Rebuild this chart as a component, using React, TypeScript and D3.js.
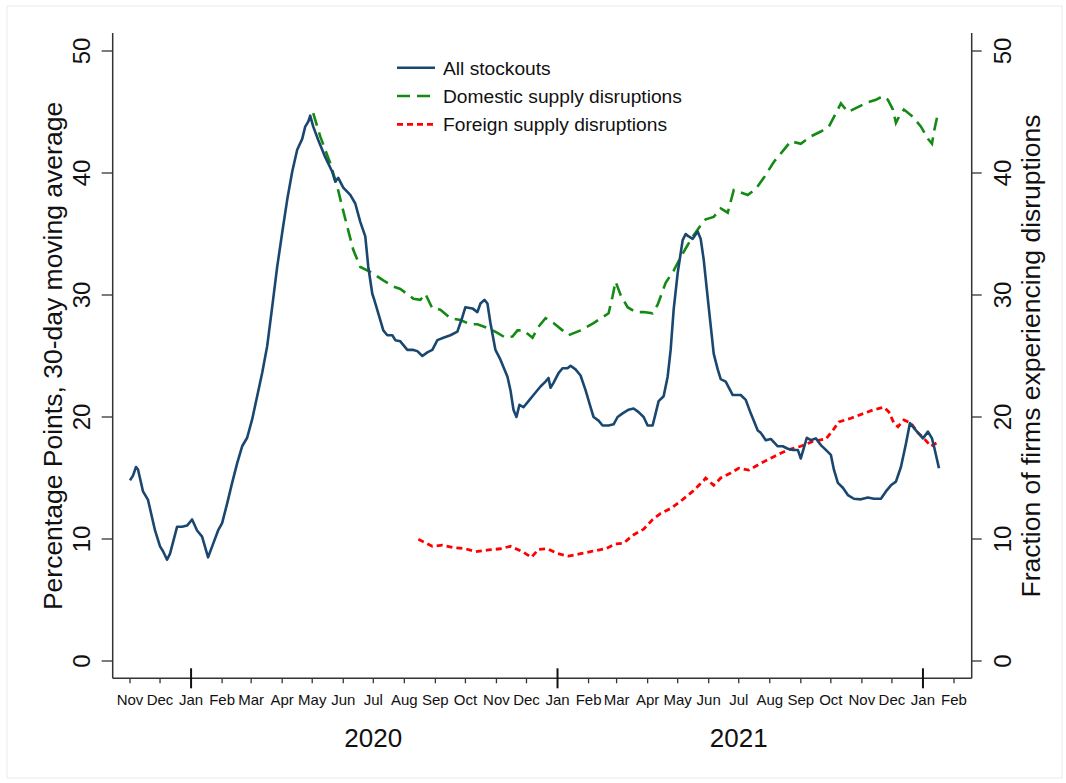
import React from "react";
import * as d3 from "d3";

// ---- Data ----
const stockoutDates = [
  "2019-11-01","2019-11-04","2019-11-07","2019-11-09","2019-11-14","2019-11-19","2019-11-26","2019-12-01","2019-12-04","2019-12-08",
  "2019-12-11","2019-12-18","2019-12-23","2019-12-28","2020-01-02","2020-01-07","2020-01-12","2020-01-18","2020-01-23","2020-01-28",
  "2020-02-01","2020-02-06","2020-02-11","2020-02-16","2020-02-21","2020-02-26","2020-03-02","2020-03-07","2020-03-12","2020-03-17",
  "2020-03-22","2020-03-27","2020-04-01","2020-04-06","2020-04-11","2020-04-16","2020-04-21","2020-04-24","2020-04-27","2020-04-29",
  "2020-05-02","2020-05-07","2020-05-14","2020-05-21","2020-05-24","2020-05-27","2020-06-01","2020-06-08","2020-06-13","2020-06-18",
  "2020-06-23","2020-06-26","2020-06-30","2020-07-02","2020-07-06","2020-07-11","2020-07-15","2020-07-20","2020-07-23","2020-07-28",
  "2020-08-04","2020-08-10","2020-08-14","2020-08-19","2020-08-24","2020-08-29","2020-09-03","2020-09-09","2020-09-16","2020-09-23",
  "2020-09-28","2020-10-01","2020-10-08","2020-10-13","2020-10-16","2020-10-20","2020-10-23","2020-10-26","2020-10-31","2020-11-05",
  "2020-11-12","2020-11-15","2020-11-18","2020-11-21","2020-11-24","2020-11-28","2020-12-03","2020-12-08","2020-12-15","2020-12-20",
  "2020-12-23","2020-12-25","2020-12-28","2021-01-02","2021-01-06","2021-01-11","2021-01-14","2021-01-19","2021-01-24","2021-01-29",
  "2021-02-03","2021-02-06","2021-02-11","2021-02-15","2021-02-21","2021-02-26","2021-03-02","2021-03-07","2021-03-13","2021-03-18",
  "2021-03-23","2021-03-28","2021-04-01","2021-04-06","2021-04-09","2021-04-12","2021-04-17","2021-04-21","2021-04-24","2021-04-27",
  "2021-05-01","2021-05-06","2021-05-09","2021-05-12","2021-05-16","2021-05-21","2021-05-24","2021-05-27","2021-06-01","2021-06-06",
  "2021-06-10","2021-06-13","2021-06-18","2021-06-25","2021-07-03","2021-07-08","2021-07-13","2021-07-20","2021-07-23","2021-07-28",
  "2021-08-02","2021-08-09","2021-08-14","2021-08-19","2021-08-24","2021-08-29","2021-09-01","2021-09-07","2021-09-11","2021-09-16",
  "2021-09-21","2021-09-26","2021-10-01","2021-10-04","2021-10-08","2021-10-13","2021-10-18","2021-10-24","2021-10-31","2021-11-07",
  "2021-11-13","2021-11-20","2021-11-25","2021-11-30","2021-12-05","2021-12-10","2021-12-15","2021-12-19","2021-12-25","2022-01-01",
  "2022-01-06","2022-01-10","2022-01-12","2022-01-17",
];
const stockoutValues = [
  14.8,15.2,15.9,15.7,13.9,13.2,10.7,9.4,9.0,8.3,
  8.8,11.0,11.0,11.1,11.6,10.7,10.2,8.5,9.6,10.7,
  11.3,12.9,14.6,16.2,17.6,18.3,19.8,21.7,23.6,25.8,
  29.0,32.3,35.1,37.8,40.1,41.9,42.8,43.8,44.2,44.7,
  43.8,42.7,41.3,40.1,39.3,39.6,38.8,38.2,37.5,36.0,
  34.8,32.3,30.1,29.6,28.5,27.1,26.7,26.7,26.3,26.2,
  25.5,25.5,25.4,25.0,25.3,25.5,26.3,26.5,26.7,27.0,
  28.2,29.0,28.9,28.6,29.3,29.6,29.3,27.7,25.5,24.7,
  23.3,22.2,20.6,20.0,21.0,20.8,21.3,21.8,22.5,22.9,
  23.2,22.4,22.8,23.6,24.0,24.0,24.2,23.9,23.4,22.2,
  20.8,20.0,19.7,19.3,19.3,19.4,20.0,20.3,20.6,20.7,
  20.4,20.0,19.3,19.3,20.3,21.3,21.7,23.3,25.5,28.8,
  31.8,34.5,35.0,34.8,34.6,35.2,34.6,32.9,29.0,25.2,
  23.9,23.1,22.9,21.8,21.8,21.4,20.3,18.9,18.7,18.1,
  18.2,17.6,17.6,17.4,17.3,17.3,16.6,18.3,18.1,18.25,
  17.7,17.3,16.9,15.7,14.6,14.2,13.6,13.3,13.25,13.4,
  13.3,13.3,13.9,14.4,14.7,15.9,17.8,19.5,18.9,18.25,
  18.8,18.25,17.6,15.8,
];

const domesticDates = [
  "2020-05-02","2020-05-09","2020-05-19","2020-05-26","2020-05-31","2020-06-05","2020-06-11","2020-06-18","2020-06-28","2020-07-11",
  "2020-07-21","2020-07-28","2020-08-10","2020-08-17","2020-08-22","2020-08-29","2020-09-06","2020-09-16","2020-09-26","2020-10-06",
  "2020-10-13","2020-10-23","2020-11-02","2020-11-10","2020-11-17","2020-11-22","2020-11-28","2020-12-07","2020-12-13","2020-12-20",
  "2020-12-28","2021-01-06","2021-01-12","2021-01-24","2021-02-06","2021-02-21","2021-02-25","2021-02-28","2021-03-05","2021-03-12",
  "2021-03-20","2021-03-28","2021-04-06","2021-04-11","2021-04-19","2021-04-27","2021-05-04","2021-05-11","2021-05-17","2021-05-24",
  "2021-05-29","2021-06-06","2021-06-13","2021-06-20","2021-06-26","2021-07-10","2021-07-18","2021-07-26","2021-08-05","2021-08-15",
  "2021-08-22","2021-09-01","2021-09-11","2021-09-21","2021-09-29","2021-10-06","2021-10-11","2021-10-18","2021-10-28","2021-11-07",
  "2021-11-15","2021-11-22","2021-11-27","2021-12-02","2021-12-05","2021-12-08","2021-12-13","2021-12-22","2021-12-30","2022-01-06",
  "2022-01-10","2022-01-12","2022-01-16",
];
const domesticValues = [
  44.9,43.0,40.8,38.9,37.2,35.6,33.7,32.3,31.9,31.2,
  30.7,30.5,29.7,29.6,30.1,28.9,28.8,28.1,27.95,27.6,
  27.6,27.3,26.9,26.5,26.6,27.1,27.1,26.5,27.4,28.1,
  27.7,27.1,26.7,27.1,27.7,28.5,29.9,31.1,30.0,29.0,
  28.6,28.6,28.5,29.2,31.0,32.0,33.1,34.1,34.9,35.7,
  36.2,36.4,37.1,36.75,38.6,38.2,38.7,39.6,40.9,41.9,
  42.6,42.4,43.0,43.4,43.8,44.9,45.7,45.0,45.4,45.8,
  46.0,46.3,46.0,45.2,44.1,44.6,45.2,44.6,43.8,42.8,
  42.4,43.4,44.9,
];

const foreignDates = [
  "2020-08-15","2020-08-29","2020-09-08","2020-09-19","2020-10-01","2020-10-11","2020-10-24","2020-11-05","2020-11-15","2020-11-27",
  "2020-12-06","2020-12-13","2020-12-22","2021-01-01","2021-01-12","2021-01-24","2021-02-05","2021-02-18","2021-02-28","2021-03-08",
  "2021-03-17","2021-03-28","2021-04-06","2021-04-14","2021-04-24","2021-05-04","2021-05-16","2021-05-27","2021-05-29","2021-06-06",
  "2021-06-13","2021-06-23","2021-07-01","2021-07-11","2021-07-23","2021-08-05","2021-08-19","2021-09-01","2021-09-13","2021-09-26",
  "2021-10-03","2021-10-09","2021-10-21","2021-11-03","2021-11-13","2021-11-23","2021-11-28","2021-12-03","2021-12-07","2021-12-13",
  "2021-12-20","2021-12-27","2022-01-02","2022-01-09","2022-01-17",
];
const foreignValues = [
  9.97,9.4,9.5,9.3,9.2,8.96,9.1,9.2,9.4,8.96,
  8.5,9.15,9.2,8.8,8.6,8.8,9.0,9.2,9.6,9.65,
  10.3,10.8,11.6,12.1,12.5,13.1,13.9,14.8,15.0,14.4,
  15.0,15.4,15.8,15.65,16.2,16.75,17.3,17.6,18.0,18.2,
  18.9,19.6,19.9,20.3,20.6,20.8,20.4,19.5,19.2,19.75,
  19.5,18.7,18.25,17.6,18.0,
];

const yTicks = [0, 10, 20, 30, 40, 50];
const monthLabels = ["Jan","Feb","Mar","Apr","May","Jun","Jul","Aug","Sep","Oct","Nov","Dec"];
const yearLabels = ["2020", "2021"];
const legendLabels = ["All stockouts", "Domestic supply disruptions", "Foreign supply disruptions"];
const leftTitle = "Percentage Points, 30-day moving average";
const rightTitle = "Fraction of firms experiencing disruptions";

const parse = d3.utcParse("%Y-%m-%d");
type Pt = { d: Date; v: number };
const zip = (ds: string[], vs: number[]): Pt[] => ds.map((s, i) => ({ d: parse(s) as Date, v: vs[i] }));

export default function App() {
  const W = 1066, H = 783;
  const font = "'Liberation Sans', Arial, Helvetica, sans-serif";
  const x = d3.scaleUtc()
    .domain([parse("2019-11-01") as Date, parse("2022-02-01") as Date])
    .range([130, 954]);
  const y = d3.scaleLinear().domain([0, 50]).range([661, 51]);
  const axL = 112.7, axR = 971.7, axB = 678.3, axT = 33;

  const line = d3.line<Pt>().x((p) => x(p.d)).y((p) => y(p.v)).curve(d3.curveLinear);
  const blue = zip(stockoutDates, stockoutValues);
  const green = zip(domesticDates, domesticValues);
  const red = zip(foreignDates, foreignValues);

  const months = d3.utcMonth.range(parse("2019-11-01") as Date, parse("2022-02-02") as Date);
  const navy = "#1a476f", grn = "#138a13", rd = "#ff0000";
  const axisColor = "#333";

  const series = [
    { color: navy, dash: undefined as string | undefined, w: 2.6 },
    { color: grn, dash: "13,7", w: 2.6 },
    { color: rd, dash: "6,4", w: 2.8 },
  ];

  return (
    <svg width={W} height={H} style={{ position: "absolute", left: 0, top: 0, display: "block", background: "#fff" }}
      fontFamily={font}>
      <rect x={7} y={6} width={1055} height={772} fill="#fff" stroke="#ebebeb" strokeWidth={1} />

      {/* data lines */}
      <path d={line(red) || ""} fill="none" stroke={rd} strokeWidth={2.8} strokeDasharray="6,4" />
      <path d={line(green) || ""} fill="none" stroke={grn} strokeWidth={2.6} strokeDasharray="13,7" />
      <path d={line(blue) || ""} fill="none" stroke={navy} strokeWidth={2.6} strokeLinejoin="round" />

      {/* axes lines */}
      <line x1={axL} y1={axT} x2={axL} y2={axB} stroke={axisColor} strokeWidth={1.5} />
      <line x1={axR} y1={axT} x2={axR} y2={axB} stroke={axisColor} strokeWidth={1.5} />
      <line x1={axL} y1={axB} x2={axR} y2={axB} stroke={axisColor} strokeWidth={1.5} />

      {/* y ticks left and right */}
      {yTicks.map((t) => (
        <g key={"yt" + t}>
          <line x1={axL - 11} x2={axL} y1={y(t)} y2={y(t)} stroke={axisColor} strokeWidth={1.3} />
          <line x1={axR} x2={axR + 10} y1={y(t)} y2={y(t)} stroke={axisColor} strokeWidth={1.3} />
          <text transform={`translate(90,${y(t)}) rotate(-90)`} textAnchor="middle" fontSize={24} fill="#111">{t}</text>
          <text transform={`translate(1011,${y(t)}) rotate(-90)`} textAnchor="middle" fontSize={24} fill="#111">{t}</text>
        </g>
      ))}

      {/* x ticks */}
      {months.map((m, i) => {
        const isJan = m.getUTCMonth() === 0;
        const xx = x(m);
        return (
          <g key={"m" + i}>
            {isJan ? (
              <line x1={xx} x2={xx} y1={axB - 10} y2={axB + 10} stroke="#111" strokeWidth={2} />
            ) : (
              <line x1={xx} x2={xx} y1={axB} y2={axB + 5} stroke={axisColor} strokeWidth={1.3} />
            )}
            <text x={xx} y={705} textAnchor="middle" fontSize={15} fill="#111">{monthLabels[m.getUTCMonth()]}</text>
          </g>
        );
      })}

      {/* year labels */}
      {yearLabels.map((yr) => (
        <text key={yr} x={x(parse(`${yr}-07-01`) as Date)} y={747} textAnchor="middle" fontSize={26} fill="#111">{yr}</text>
      ))}

      {/* axis titles */}
      <text transform={`translate(62,356) rotate(-90)`} textAnchor="middle" fontSize={26.5} fill="#111">{leftTitle}</text>
      <text transform={`translate(1040,356) rotate(-90)`} textAnchor="middle" fontSize={26.5} fill="#111">{rightTitle}</text>

      {/* legend */}
      {legendLabels.map((lab, i) => {
        const cy = 67.7 + i * 28.3;
        const s = series[i];
        return (
          <g key={lab}>
            <line x1={397} x2={435} y1={cy} y2={cy} stroke={s.color} strokeWidth={s.w} strokeDasharray={s.dash} />
            <text x={443} y={cy + 6.8} fontSize={19.2} fill="#111">{lab}</text>
          </g>
        );
      })}
    </svg>
  );
}
